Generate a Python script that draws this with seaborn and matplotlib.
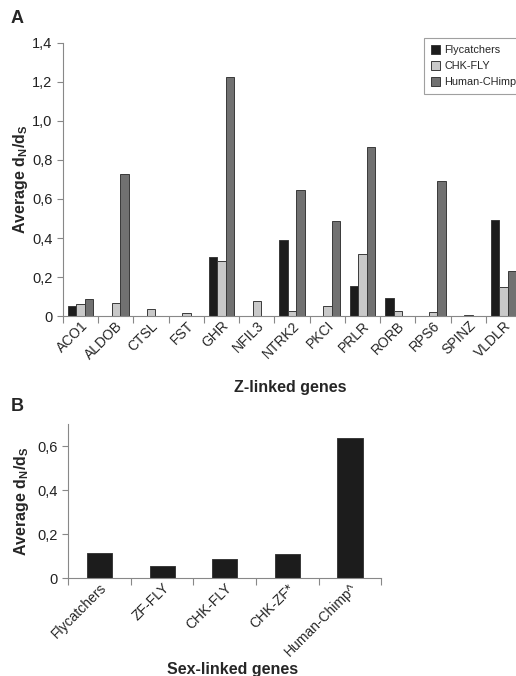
import numpy as np
import pandas as pd
import matplotlib
matplotlib.use("Agg")
import matplotlib.pyplot as plt
import seaborn as sns
from matplotlib.ticker import FuncFormatter, FixedLocator

sns.set_style("white")
plt.rcParams['font.family'] = ['Liberation Sans', 'DejaVu Sans']
plt.rcParams['mathtext.default'] = 'regular'

# Panel A : Z-linked genes
genes = ['ACO1', 'ALDOB', 'CTSL', 'FST', 'GHR', 'NFIL3', 'NTRK2', 'PKCI',
         'PRLR', 'RORB', 'RPS6', 'SPINZ', 'VLDLR']
flycatchers = [0.051, 0, 0, 0, 0.305, 0, 0.388, 0, 0.153, 0.094, 0, 0, 0.492]
chk_fly = [0.060, 0.068, 0.036, 0.014, 0.280, 0.078, 0.026, 0.053, 0.318,
           0.026, 0.019, 0.005, 0.150]
human_chimp = [0.085, 0.730, 0, 0, 1.223, 0, 0.644, 0.489, 0.867, 0, 0.691,
               0, 0.232]
series_a = ['Flycatchers', 'CHK-FLY', 'Human-CHimp']

# Panel B : sex-linked genes
groups_b = ['Flycatchers', 'ZF-FLY', 'CHK-FLY', 'CHK-ZF*', 'Human-Chimp^']
values_b = [0.113, 0.057, 0.086, 0.109, 0.636]

df_a = pd.DataFrame({
    'gene': genes * 3,
    'value': flycatchers + chk_fly + human_chimp,
    'series': [s for s in series_a for _ in genes],
})
df_b = pd.DataFrame({'group': groups_b, 'value': values_b})

colors = ['#1c1c1c', '#c9c9c9', '#717171']
comma = FuncFormatter(lambda v, p: '0' if abs(v) < 1e-9 else f'{v:.1f}'.replace('.', ','))
ylab = 'Average d$_N$/d$_S$'

fig = plt.figure(figsize=(5.16, 6.76), dpi=100)

def style_axes(ax, n):
    for s in ['top', 'right']:
        ax.spines[s].set_visible(False)
    for s in ['left', 'bottom']:
        ax.spines[s].set_color('#888888')
        ax.spines[s].set_linewidth(0.8)
    ax.set_xlim(-0.5, n - 0.5)
    ax.xaxis.set_minor_locator(FixedLocator(np.arange(-0.5, n, 1.0)))
    ax.tick_params(axis='x', which='major', length=0, labelsize=10, pad=2)
    ax.tick_params(axis='x', which='minor', length=5, width=0.8, color='#888888',
                   direction='out', bottom=True)
    ax.tick_params(axis='y', length=4, width=0.8, color='#888888', direction='out',
                   left=True, labelsize=10.5, labelcolor='#222222')
    ax.yaxis.set_major_formatter(comma)
    for lab in ax.get_xticklabels():
        lab.set_rotation(45)
        lab.set_ha('right')
        lab.set_rotation_mode('anchor')

# ---- A ----
ax1 = fig.add_axes([0.122, 0.5325, 0.888, 0.404])
sns.barplot(data=df_a, x='gene', y='value', hue='series', palette=colors,
            width=0.72, edgecolor='#3a3a3a', linewidth=0.7, ax=ax1)
ax1.set_ylim(0, 1.4)
ax1.set_yticks(np.arange(0, 1.41, 0.2))
style_axes(ax1, len(genes))
ax1.set_xlabel('Z-linked genes', fontsize=11.5, fontweight='bold')
ax1.xaxis.set_label_coords(0.495, -0.235)
ax1.set_ylabel(ylab, fontsize=11.5, fontweight='bold')
ax1.yaxis.set_label_coords(-0.072, 0.5)
leg = ax1.legend(loc='upper left', bbox_to_anchor=(0.788, 1.017), fontsize=7.8,
                 frameon=True, fancybox=False, handlelength=0.9, handleheight=0.9,
                 handletextpad=0.4, borderpad=0.6, labelspacing=0.55,
                 borderaxespad=0)
leg.get_frame().set_edgecolor('#888888')
leg.get_frame().set_linewidth(0.8)

# ---- B ----
ax2 = fig.add_axes([0.132, 0.1445, 0.607, 0.228])
sns.barplot(data=df_b, x='group', y='value', color='#1c1c1c', width=0.4,
            edgecolor='#3a3a3a', linewidth=0.7, ax=ax2)
ax2.set_ylim(0, 0.7)
ax2.set_yticks([0, 0.2, 0.4, 0.6])
style_axes(ax2, len(groups_b))
ax2.set_xlabel('Sex-linked genes', fontsize=11.5, fontweight='bold')
ax2.xaxis.set_label_coords(0.525, -0.54)
ax2.set_ylabel(ylab, fontsize=11.5, fontweight='bold')
ax2.yaxis.set_label_coords(-0.12, 0.5)

fig.text(0.021, 0.972, 'A', fontsize=13, fontweight='bold', va='center')
fig.text(0.021, 0.399, 'B', fontsize=13, fontweight='bold', va='center')

fig.savefig('out.png', dpi=100)
